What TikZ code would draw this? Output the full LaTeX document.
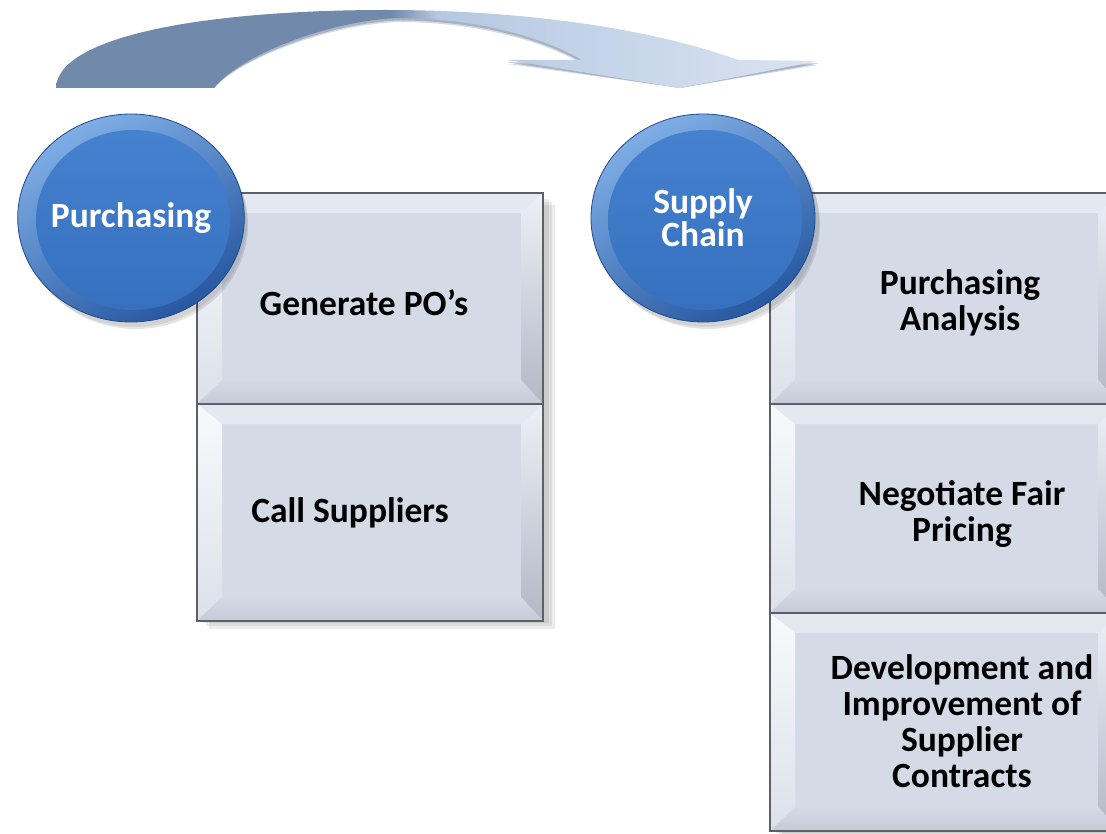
\documentclass[tikz,border=0pt]{standalone}
\usepackage{fontspec}
\setmainfont{Carlito}
\usetikzlibrary{shapes.geometric,calc}

\definecolor{boxface}{HTML}{D4DBE7}
\definecolor{bevtop}{HTML}{E4E8F0}
\definecolor{bevleft}{HTML}{F7F9FC}
\definecolor{bevleftlow}{HTML}{DCE1EA}
\definecolor{bevright}{HTML}{B2B8C5}
\definecolor{bevrighttop}{HTML}{EDF0F5}
\definecolor{bevbottom}{HTML}{C4CAD6}
\definecolor{boxline}{HTML}{5C6169}
\definecolor{ringlight}{HTML}{7FAEE6}
\definecolor{ringdark}{HTML}{2758A0}
\definecolor{facetop}{HTML}{4683D0}
\definecolor{facebottom}{HTML}{356FBE}
\definecolor{arrowdark}{HTML}{7189AB}
\definecolor{arrowmid}{HTML}{B5C8E1}
\definecolor{arrowlight}{HTML}{DAE4F2}
\definecolor{arrowedge}{HTML}{8A99AE}

% horizontal fill of the curved arrow: dark tail, pale head
\pgfdeclarehorizontalshading{arrowshade}{100bp}{%
  color(0bp)=(arrowdark); color(25bp)=(arrowdark); color(47bp)=(arrowdark);
  color(50bp)=(arrowmid); color(75bp)=(arrowlight); color(100bp)=(arrowlight)}

\tikzset{
  % bevelled tile: light top/left faces, darker right/bottom faces
  bevelbox/.style={rectangle, inner sep=0pt, fill=boxface, draw=boxline, line width=1.6pt,
    path picture={
      \path (path picture bounding box.north west) coordinate (pNW)
            (path picture bounding box.north east) coordinate (pNE)
            (path picture bounding box.south west) coordinate (pSW)
            (path picture bounding box.south east) coordinate (pSE);
      \path ($(pNW)+(25,20)$) coordinate (qNW)
            ($(pNE)+(-22,20)$) coordinate (qNE)
            ($(pSW)+(25,-24)$) coordinate (qSW)
            ($(pSE)+(-22,-24)$) coordinate (qSE);
      \fill[bevtop] (pNW) -- (pNE) -- (qNE) -- (qNW) -- cycle;
      \shade[top color=bevleft, bottom color=bevleftlow] (pNW) -- (qNW) -- (qSW) -- (pSW) -- cycle;
      \shade[top color=bevrighttop, bottom color=bevright] (pNE) -- (pSE) -- (qSE) -- (qNE) -- cycle;
      \shade[top color=boxface, bottom color=bevbottom] (pSW) -- (qSW) -- (qSE) -- (pSE) -- cycle;
    }},
  disc/.style={ellipse, inner sep=0pt, minimum width=224pt, minimum height=208pt,
    top color=ringlight, bottom color=ringdark, shading angle=30,
    draw=ringdark!85!black, line width=0.8pt,
    text=white, align=center, font=\bfseries\fontsize{35.5}{33}\selectfont,
    path picture={
      \shade[top color=facetop, bottom color=facebottom]
        ($(path picture bounding box.center)+(2,2)$) ellipse [x radius=97pt, y radius=90pt];
    }},
  boxtext/.style={align=center, text=black, inner sep=0pt,
    font=\bfseries\fontsize{35.5}{36}\selectfont},
  softshadow/.style={fill=black, opacity=0.07},
}

\begin{document}
\begin{tikzpicture}[x=1pt, y=-1pt]
  \useasboundingbox (0,0) rectangle (1106,834);
  \clip (0,0) rectangle (1106,834);
  \fill[white] (0,0) rectangle (1106,834);

  % curved arrow from the purchasing column over to the supply chain column
  \coordinate (tailL) at (56,88);
  \coordinate (tailR) at (214,88);
  \coordinate (tip) at (680,88);
  \foreach \s/\o in {4/0.35, 2.5/0.6} {
    \fill[arrowedge, opacity=\o, yshift=-\s pt]
      (tailL) .. controls (58,35) and (210,10) .. (386,10)
      .. controls (520,10) and (650,28) .. (738,60)
      -- (818,61) -- (tip) -- (508,60) -- (582,60)
      .. controls (540,35) and (470,18) .. (400,18)
      .. controls (330,20) and (240,55) .. (tailR) -- cycle;
  }
  \shade[shading=arrowshade]
    (tailL) .. controls (58,35) and (210,10) .. (386,10)
    .. controls (520,10) and (650,28) .. (738,60)
    -- (818,61) -- (tip) -- (508,60) -- (582,60)
    .. controls (540,35) and (470,18) .. (400,18)
    .. controls (330,20) and (240,55) .. (tailR) -- cycle;

  % soft shadows under the tile columns
  \foreach \d in {2,5,8} {
    \fill[softshadow] (201+\d,197+\d) rectangle (547+\d,621+\d);
    \fill[softshadow] (774+\d,197+\d) rectangle (1124+\d,831+\d);
  }

  % purchasing tiles
  \node[bevelbox, minimum width=346pt, minimum height=211pt] (b1) at (370,298.5) {};
  \node[bevelbox, minimum width=346pt, minimum height=217pt] (b2) at (370,512.5) {};
  % supply chain tiles
  \node[bevelbox, minimum width=350pt, minimum height=211pt] (r1) at (945,298.5) {};
  \node[bevelbox, minimum width=350pt, minimum height=209pt] (r2) at (945,508.5) {};
  \node[bevelbox, minimum width=350pt, minimum height=218pt] (r3) at (945,722) {};

  \node[boxtext] (t1) at (364,303) {Generate PO’s};
  \node[boxtext] (t2) at (350,513) {Call Suppliers};
  \node[boxtext] (t3) at (960,303) {Purchasing\\Analysis};
  \node[boxtext] (t4) at (962,514) {Negotiate Fair\\Pricing};
  \node[boxtext] (t5) at (962,721) {Development and\\Improvement of\\Supplier\\Contracts};

  % heading discs with their shadows
  \foreach \cx in {131,703} {
    \fill[black, opacity=0.10] (\cx+5,225) ellipse [x radius=112pt, y radius=104pt];
    \fill[black, opacity=0.08] (\cx+3,222) ellipse [x radius=113pt, y radius=105pt];
  }
  \node[disc] (c1) at (131,218) {Purchasing};
  \node[disc] (c2) at (703,218) {Supply\\Chain};
\end{tikzpicture}
\end{document}
